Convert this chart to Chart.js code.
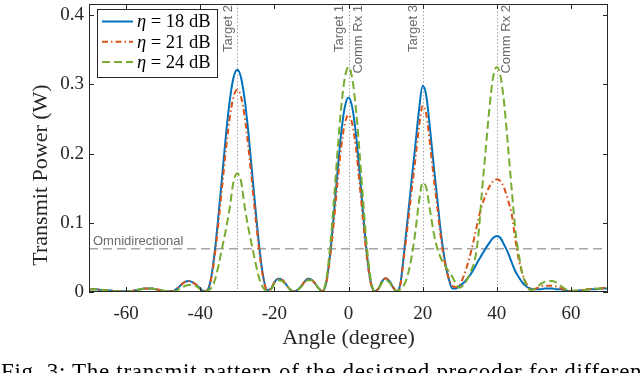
<!DOCTYPE html>
<html><head><meta charset="utf-8">
<script src="https://cdn.jsdelivr.net/npm/chart.js@4/dist/chart.umd.min.js"></script>
<style>
html,body{margin:0;padding:0;background:#fff;width:640px;height:373px;overflow:hidden;}
#wrap{position:relative;width:640px;height:373px;overflow:hidden;}
#caption{position:absolute;left:1px;top:359px;font-family:"Liberation Serif",serif;font-size:23px;letter-spacing:0.7px;white-space:nowrap;color:#000;line-height:26px;}
</style></head><body>
<div id="wrap"><canvas id="c" width="640" height="373"></canvas>
<div id="caption">Fig. 3: The transmit pattern of the designed precoder for different</div></div>
<script>
// ---- data ----
const angles = [-70,-69,-68,-67,-66,-65,-64,-63,-62,-61,-60,-59,-58,-57,-56,-55,-54,-53,-52,-51,-50,-49,-48,-47,-46,-45,-44,-43,-42,-41,-40,-39,-38,-37,-36,-35,-34,-33,-32,-31,-30,-29,-28,-27,-26,-25,-24,-23,-22,-21,-20,-19,-18,-17,-16,-15,-14,-13,-12,-11,-10,-9,-8,-7,-6,-5,-4,-3,-2,-1,0,1,2,3,4,5,6,7,8,9,10,11,12,13,14,15,16,17,18,19,20,21,22,23,24,25,26,27,28,29,30,31,32,33,34,35,36,37,38,39,40,41,42,43,44,45,46,47,48,49,50,51,52,53,54,55,56,57,58,59,60,61,62,63,64,65,66,67,68,69,70];

const eta18 = [
.004,.004,.004,.003,.003,.002,.002,.001,.001,.001,
.001,.001,.002,.003,.004,.005,.005,.005,.004,.003,
.002,.001,.001,.002,.006,.011,.015,.016,.014,.010,
.005,.001,.003,.022,.062,.115,.172,.230,.278,.310,
.321,.310,.278,.230,.172,.115,.062,.022,.003,.004,
.014,.019,.018,.012,.005,.001,.002,.007,.014,.019,
.018,.012,.005,.001,.014,.053,.109,.172,.228,.267,
.281,.267,.228,.172,.109,.053,.014,.001,.004,.015,
.020,.016,.007,.001,.012,.058,.108,.160,.210,.262,
.298,.283,.235,.182,.132,.082,.045,.020,.005,.005,
.009,.013,.019,.026,.035,.045,.054,.063,.071,.078,
.081,.078,.068,.057,.043,.030,.021,.013,.008,.005,
.004,.004,.004,.005,.005,.005,.004,.004,.003,.002,
.001,.001,.002,.002,.003,.004,.004,.004,.005,.005,.005];

const eta21 = [
.004,.004,.004,.003,.003,.002,.002,.001,.001,.001,
.001,.001,.002,.003,.004,.005,.005,.005,.004,.003,
.002,.001,.001,.002,.006,.011,.015,.016,.014,.010,
.005,.001,.003,.020,.056,.104,.157,.209,.253,.282,
.292,.282,.253,.209,.157,.104,.056,.020,.003,.004,
.014,.019,.018,.012,.005,.001,.002,.007,.014,.019,
.018,.012,.005,.001,.013,.048,.099,.156,.208,.243,
.256,.243,.208,.156,.099,.048,.013,.001,.004,.015,
.020,.016,.007,.001,.011,.052,.098,.145,.190,.237,
.269,.256,.213,.165,.120,.075,.042,.020,.009,.007,
.010,.022,.038,.057,.080,.105,.125,.140,.152,.160,
.163,.160,.150,.133,.113,.076,.045,.025,.012,.005,
.004,.006,.008,.009,.009,.009,.008,.006,.004,.002,
.001,.001,.002,.003,.004,.004,.005,.005,.005,.006,.006];

const eta24 = [
.004,.004,.004,.003,.003,.002,.002,.001,.001,.001,
.001,.001,.002,.003,.004,.005,.005,.005,.004,.003,
.002,.001,.001,.001,.003,.006,.009,.010,.010,.008,
.004,.001,.002,.006,.018,.040,.066,.092,.123,.160,
.171,.160,.123,.092,.066,.040,.018,.006,.002,.003,
.012,.017,.016,.011,.005,.001,.002,.006,.012,.017,
.017,.012,.005,.001,.018,.063,.128,.200,.265,.309,
.325,.309,.265,.200,.128,.063,.018,.002,.004,.013,
.017,.014,.006,.001,.004,.010,.025,.050,.085,.130,
.158,.150,.118,.085,.062,.048,.038,.030,.022,.012,
.006,.010,.018,.030,.045,.080,.145,.205,.265,.310,
.325,.312,.272,.212,.150,.090,.052,.025,.010,.003,
.004,.008,.012,.015,.016,.016,.014,.010,.006,.003,
.002,.002,.002,.003,.003,.004,.004,.005,.005,.006,.006];

const seriesLabels = ['η = 18 dB', 'η = 21 dB', 'η = 24 dB'];
const xTicks = [-60,-40,-20,0,20,40,60];
const yTicks = [0,0.1,0.2,0.3,0.4];
const yTickLabels = ['0','0.1','0.2','0.3','0.4'];
const markerAngles = [-30, 0, 0, 20, 40];
const markerLabels = ['Target 2','Target 1','Comm Rx 1','Target 3','Comm Rx 2'];
const omniLevel = 0.0625;
const omniLabel = 'Omnidirectional';
const xTitle = 'Angle (degree)';
const yTitle = 'Transmit Power (W)';

// ---- style (not data) ----
const markerSide = ['left','left','right','left','right'];
const serif = '"Liberation Serif", serif';
const sans = '"Liberation Sans", Arial, sans-serif';
const axisColor = '#262626';

const mk = vals => angles.map((a,i)=>({x:a, y:vals[i]}));

const framePlugin = {
  id:'frame',
  beforeDatasetsDraw(chart){
    const {ctx, chartArea:a, scales:{x,y}} = chart;
    ctx.save();
    ctx.strokeStyle='#a6a6a6'; ctx.lineWidth=1; ctx.setLineDash([1.5,2]);
    [...new Set(markerAngles)].forEach(v=>{
      const px=Math.round(x.getPixelForValue(v))+0.5;
      ctx.beginPath(); ctx.moveTo(px,a.top); ctx.lineTo(px,a.bottom); ctx.stroke();
    });
    const py=y.getPixelForValue(omniLevel);
    ctx.setLineDash([9,5]); ctx.strokeStyle='#a6a6a6'; ctx.lineWidth=1.5;
    ctx.beginPath(); ctx.moveTo(a.left,py); ctx.lineTo(a.right,py); ctx.stroke();
    ctx.restore();
  },
  afterDatasetsDraw(chart){
    const {ctx, chartArea:a, scales:{x,y}} = chart;
    ctx.save();
    // y title (drawn manually for exact placement)
    ctx.fillStyle=axisColor; ctx.font='22px '+serif;
    ctx.save(); ctx.translate(41, 175); ctx.rotate(-Math.PI/2);
    ctx.textAlign='center'; ctx.textBaseline='middle'; ctx.fillText(yTitle,0,0); ctx.restore();
    // marker labels
    ctx.fillStyle='#6a6a6a'; ctx.font='13px '+sans; ctx.textBaseline='middle';
    markerAngles.forEach((v,i)=>{
      const px=x.getPixelForValue(v);
      const off = markerSide[i]==='left' ? -9 : 10;
      ctx.save(); ctx.translate(px+off, a.top+1); ctx.rotate(-Math.PI/2);
      ctx.textAlign='right'; ctx.fillText(markerLabels[i],0,0); ctx.restore();
    });
    // omni label
    const py=y.getPixelForValue(omniLevel);
    ctx.textAlign='left'; ctx.textBaseline='alphabetic';
    ctx.fillText(omniLabel, a.left+4, py-4);
    // frame
    ctx.strokeStyle=axisColor; ctx.lineWidth=1; ctx.setLineDash([]);
    ctx.strokeRect(Math.round(a.left)+0.5, Math.round(a.top)+0.5, Math.round(a.right-a.left)-1, Math.round(a.bottom-a.top)-1);
    ctx.beginPath();
    xTicks.forEach(v=>{const px=Math.round(x.getPixelForValue(v))+0.5;
      ctx.moveTo(px,a.bottom); ctx.lineTo(px,a.bottom-5); ctx.moveTo(px,a.top); ctx.lineTo(px,a.top+5);});
    yTicks.forEach(v=>{const p=Math.round(y.getPixelForValue(v))+0.5;
      ctx.moveTo(a.left,p); ctx.lineTo(a.left+5,p); ctx.moveTo(a.right,p); ctx.lineTo(a.right-5,p);});
    ctx.stroke();
    // legend
    const bx=a.left+8, by=a.top+5, bw=120, bh=68;
    ctx.fillStyle='#fff'; ctx.fillRect(bx,by,bw,bh);
    ctx.strokeStyle=axisColor; ctx.strokeRect(bx+0.5,by+0.5,bw,bh);
    chart.data.datasets.forEach((ds,i)=>{
      const ry = by+12.5+i*20.3;
      ctx.strokeStyle=ds.borderColor; ctx.lineWidth=ds.borderWidth; ctx.setLineDash(ds.borderDash||[]);
      ctx.beginPath(); ctx.moveTo(bx+5,ry); ctx.lineTo(bx+36,ry); ctx.stroke();
      ctx.setLineDash([]);
      ctx.fillStyle='#000'; ctx.textBaseline='middle'; ctx.textAlign='left';
      const lab = ds.label;
      ctx.font='italic 18.5px '+serif;
      ctx.fillText(lab[0], bx+40, ry+1);
      const w = ctx.measureText(lab[0]).width;
      ctx.font='18.5px '+serif;
      ctx.fillText(lab.slice(1), bx+40+w, ry+1);
    });
    ctx.restore();
  }
};

new Chart(document.getElementById('c'), {
  type:'line',
  data:{datasets:[
    {label:seriesLabels[0], data:mk(eta18), borderColor:'#0072BD', borderWidth:2, pointRadius:0, cubicInterpolationMode:'monotone', fill:false, order:3},
    {label:seriesLabels[1], data:mk(eta21), borderColor:'#D95319', borderWidth:2, borderDash:[6,3,1.5,3], pointRadius:0, cubicInterpolationMode:'monotone', fill:false, order:2},
    {label:seriesLabels[2], data:mk(eta24), borderColor:'#77AC30', borderWidth:2, borderDash:[8,4], pointRadius:0, cubicInterpolationMode:'monotone', fill:false, order:1}
  ]},
  options:{
    responsive:false, animation:false, devicePixelRatio:1,
    layout:{padding:{left:0,right:32,top:4,bottom:0}},
    plugins:{legend:{display:false}, tooltip:{enabled:false}},
    scales:{
      x:{type:'linear', min:-70, max:70,
        afterBuildTicks:s=>{s.ticks=xTicks.map(v=>({value:v}));},
        afterFit:s=>{s.height=81; s.paddingLeft=0; s.paddingRight=0;},
        grid:{display:false, drawTicks:false}, border:{display:false},
        ticks:{font:{family:serif,size:19}, color:axisColor, padding:11, maxRotation:0, autoSkip:false, callback:v=>String(v)},
        title:{display:true, text:xTitle, font:{family:serif,size:22}, color:axisColor, padding:{top:0,bottom:22}}
      },
      y:{type:'linear', min:0, max:0.416,
        afterBuildTicks:s=>{s.ticks=yTicks.map(v=>({value:v}));},
        afterFit:s=>{s.width=89; s.paddingTop=0; s.paddingBottom=0;},
        grid:{display:false, drawTicks:false}, border:{display:false},
        ticks:{font:{family:serif,size:19}, color:axisColor, padding:5, autoSkip:false, callback:(v,i)=>yTickLabels[i]},
        title:{display:false, text:yTitle}
      }
    }
  },
  plugins:[framePlugin]
});
</script>
</body></html>
